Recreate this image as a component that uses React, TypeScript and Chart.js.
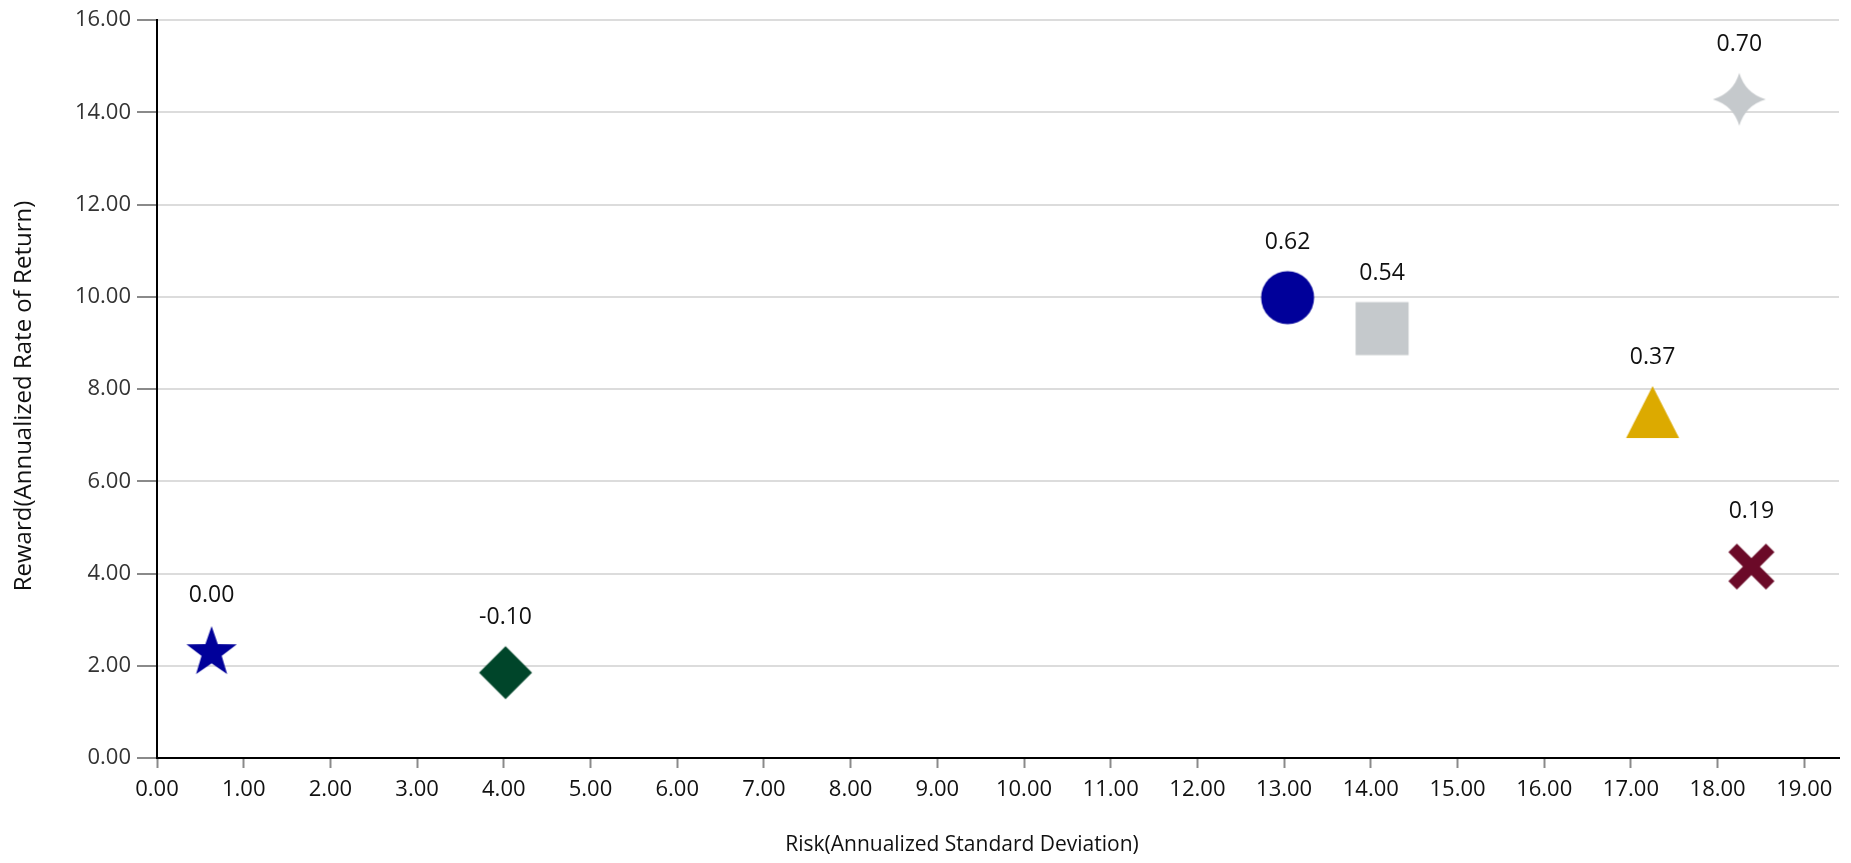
import React, { useEffect, useRef } from "react";
import { Chart, registerables } from "chart.js";

Chart.register(...registerables);

// ---- data ----
const riskValues = [0.63, 4.02, 13.04, 14.13, 18.25, 17.25, 18.39];
const rewardValues = [2.34, 1.85, 9.98, 9.31, 14.28, 7.5, 4.15];
const sharpeLabels = ["0.00", "-0.10", "0.62", "0.54", "0.70", "0.37", "0.19"];
const markerShapes = ["star5", "diamond", "circle", "square", "star4", "triangle", "cross"];
const markerColors = ["#00009a", "#00452a", "#00009a", "#c5c9cc", "#c5c9cc", "#dcaa00", "#6b0a28"];
const xTitle = "Risk(Annualized Standard Deviation)";
const yTitle = "Reward(Annualized Rate of Return)";

const FONT = "'Open Sans', sans-serif";

function makeMarker(shape: string, color: string): HTMLCanvasElement {
  const s = 56;
  const c = document.createElement("canvas");
  c.width = s;
  c.height = s;
  const ctx = c.getContext("2d")!;
  ctx.translate(s / 2, s / 2);
  ctx.fillStyle = color;
  ctx.strokeStyle = color;
  ctx.beginPath();
  if (shape === "circle") {
    ctx.arc(0, 0, 26.5, 0, Math.PI * 2);
    ctx.fill();
  } else if (shape === "square") {
    ctx.rect(-26.5, -26.5, 53, 53);
    ctx.fill();
  } else if (shape === "diamond") {
    ctx.moveTo(0, -26.5);
    ctx.lineTo(26.5, 0);
    ctx.lineTo(0, 26.5);
    ctx.lineTo(-26.5, 0);
    ctx.closePath();
    ctx.fill();
  } else if (shape === "triangle") {
    ctx.moveTo(0, -26);
    ctx.lineTo(26.5, 26);
    ctx.lineTo(-26.5, 26);
    ctx.closePath();
    ctx.fill();
  } else if (shape === "star5") {
    const R = 26.5;
    const r = R * 0.4;
    const off = R - (R + R * Math.cos(Math.PI / 5)) / 2;
    for (let i = 0; i < 10; i++) {
      const rad = i % 2 === 0 ? R : r;
      const a = -Math.PI / 2 + (i * Math.PI) / 5;
      const x = Math.cos(a) * rad;
      const y = Math.sin(a) * rad + off;
      if (i === 0) ctx.moveTo(x, y);
      else ctx.lineTo(x, y);
    }
    ctx.closePath();
    ctx.fill();
  } else if (shape === "star4") {
    const R = 26.5;
    const k = 6;
    ctx.moveTo(0, -R);
    ctx.quadraticCurveTo(k, -k, R, 0);
    ctx.quadraticCurveTo(k, k, 0, R);
    ctx.quadraticCurveTo(-k, k, -R, 0);
    ctx.quadraticCurveTo(-k, -k, 0, -R);
    ctx.closePath();
    ctx.fill();
  } else if (shape === "cross") {
    const d = 18.8;
    ctx.lineWidth = 12;
    ctx.lineCap = "butt";
    ctx.moveTo(-d, -d);
    ctx.lineTo(d, d);
    ctx.moveTo(d, -d);
    ctx.lineTo(-d, d);
    ctx.stroke();
  }
  return c;
}

const pointLabelPlugin = {
  id: "pointLabels",
  afterDatasetsDraw(chart: any) {
    const ctx = chart.ctx;
    const meta = chart.getDatasetMeta(0);
    ctx.save();
    ctx.font = `23px ${FONT}`;
    ctx.fillStyle = "#111";
    ctx.textAlign = "center";
    ctx.textBaseline = "middle";
    meta.data.forEach((pt: any, i: number) => {
      ctx.fillText(sharpeLabels[i], pt.x, pt.y - 55);
    });
    ctx.restore();
  },
};

const axisTitlePlugin = {
  id: "axisTitles",
  afterDraw(chart: any) {
    const ctx = chart.ctx;
    ctx.save();
    ctx.font = `21px ${FONT}`;
    ctx.fillStyle = "#111";
    ctx.textAlign = "center";
    ctx.textBaseline = "middle";
    ctx.fillText(xTitle, 962, 845);
    ctx.font = `24px ${FONT}`;
    ctx.translate(24, 396);
    ctx.rotate(-Math.PI / 2);
    ctx.fillText(yTitle, 0, 0);
    ctx.restore();
  },
};

export default function App() {
  const ref = useRef<HTMLCanvasElement | null>(null);
  useEffect(() => {
    document.body.style.margin = "0";
    document.body.style.overflow = "hidden";
    const canvas = ref.current!;
    const markers = markerShapes.map((s, i) => makeMarker(s, markerColors[i]));
    const chart = new Chart(canvas, {
      type: "scatter",
      data: {
        datasets: [
          {
            data: riskValues.map((x, i) => ({ x, y: rewardValues[i] })),
            pointStyle: markers as any,
            pointRadius: 27,
            backgroundColor: markerColors,
            borderColor: markerColors,
          },
        ],
      },
      options: {
        animation: false,
        responsive: false,
        layout: { autoPadding: false, padding: { top: 20, right: 12, left: 0, bottom: 0 } },
        plugins: {
          legend: { display: false },
          tooltip: { enabled: false },
        },
        scales: {
          x: {
            type: "linear",
            min: 0,
            max: 19.4,
            afterFit(scale: any) {
              scale.height = 105;
            },
            border: { display: true, color: "#000", width: 2 },
            grid: {
              drawOnChartArea: false,
              drawTicks: true,
              tickLength: 10,
              tickColor: "#8a8a8a",
              tickWidth: 2,
            },
            ticks: {
              stepSize: 1,
              includeBounds: false,
              maxRotation: 0,
              autoSkip: false,
              padding: 9,
              color: "#111",
              font: { size: 22, family: FONT },
              callback: (v: any) => Number(v).toFixed(2),
            },
          },
          y: {
            type: "linear",
            min: 0,
            max: 16,
            afterFit(scale: any) {
              scale.width = 157;
            },
            border: { display: true, color: "#000", width: 2 },
            grid: {
              color: "#dcdcdc",
              lineWidth: 2,
              drawTicks: true,
              tickLength: 20,
              tickColor: "#8a8a8a",
              tickWidth: 2,
            },
            ticks: {
              stepSize: 2,
              padding: 6,
              color: "#333",
              font: { size: 22, family: FONT },
              callback: (v: any) => Number(v).toFixed(2),
            },
          },
        },
      },
      plugins: [pointLabelPlugin, axisTitlePlugin],
    } as any);
    return () => chart.destroy();
  }, []);
  return (
    <div style={{ width: 1851, height: 863 }}>
      <canvas ref={ref} width={1851} height={863} style={{ display: "block" }} />
    </div>
  );
}
